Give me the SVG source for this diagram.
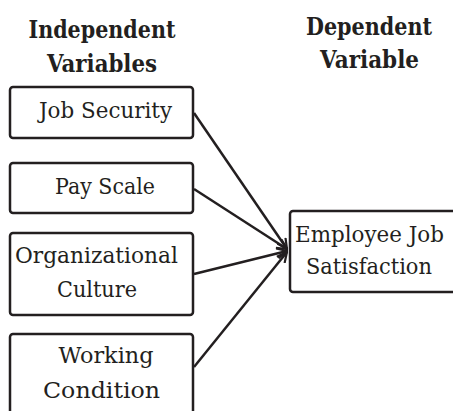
<svg xmlns="http://www.w3.org/2000/svg" width="453" height="411" viewBox="0 0 453 411">
  <style>
    text { font-family: "DejaVu Serif", "Liberation Serif", serif; fill: #231f20; text-anchor: middle; }
    .box { fill: #ffffff; stroke: #231f20; stroke-width: 2.5; }
    .head { font-weight: bold; font-size: 24px; }
    .lbl { font-size: 23px; }
    .lbl-sm { font-size: 21.5px; }
    .link { fill: none; stroke: #231f20; stroke-width: 2.5; marker-end: url(#arrow); }
  </style>
  <defs>
    <marker id="arrow" viewBox="0 0 12 12" refX="11" refY="6" markerWidth="12" markerHeight="12" markerUnits="userSpaceOnUse" orient="auto">
      <path d="M1,1 L11,6 L1,11" fill="none" stroke="#231f20" stroke-width="2.2" stroke-linejoin="miter"/>
    </marker>
  </defs>
  <rect width="453" height="411" fill="#ffffff"/>

  <!-- column headings -->
  <g id="heading-independent">
    <text class="head" x="102" y="38" textLength="147" lengthAdjust="spacingAndGlyphs">Independent</text>
    <text class="head" x="102" y="72" textLength="110" lengthAdjust="spacingAndGlyphs">Variables</text>
  </g>
  <g id="heading-dependent">
    <text class="head" x="369" y="35" textLength="126" lengthAdjust="spacingAndGlyphs">Dependent</text>
    <text class="head" x="369.5" y="68" textLength="99" lengthAdjust="spacingAndGlyphs">Variable</text>
  </g>

  <!-- connectors -->
  <g id="connectors">
    <line class="link" x1="194" y1="113" x2="287" y2="249"/>
    <line class="link" x1="194" y1="189" x2="287" y2="249"/>
    <line class="link" x1="194" y1="274" x2="287" y2="251"/>
    <line class="link" x1="194" y1="367" x2="287" y2="252"/>
  </g>

  <!-- independent variables -->
  <g id="job-security">
    <rect class="box" x="10" y="87" width="183" height="51" rx="3"/>
    <text class="lbl" x="105.5" y="118" textLength="133" lengthAdjust="spacingAndGlyphs">Job Security</text>
  </g>
  <g id="pay-scale">
    <rect class="box" x="10" y="163" width="183" height="50" rx="3"/>
    <text class="lbl" x="105" y="194" textLength="100" lengthAdjust="spacingAndGlyphs">Pay Scale</text>
  </g>
  <g id="organizational-culture">
    <rect class="box" x="10" y="233" width="183" height="82" rx="3"/>
    <text class="lbl" x="96.5" y="263" textLength="163" lengthAdjust="spacingAndGlyphs">Organizational</text>
    <text class="lbl" x="97" y="297" textLength="80" lengthAdjust="spacingAndGlyphs">Culture</text>
  </g>
  <g id="working-condition">
    <rect class="box" x="10" y="334" width="183" height="90" rx="3"/>
    <text class="lbl" x="106" y="363" textLength="95" lengthAdjust="spacingAndGlyphs">Working</text>
    <text class="lbl" x="101.5" y="398" textLength="117" lengthAdjust="spacingAndGlyphs">Condition</text>
  </g>

  <!-- dependent variable; box runs past the right edge -->
  <g id="employee-job-satisfaction">
    <rect class="box" x="290" y="211" width="180" height="81" rx="3"/>
    <text class="lbl-sm" x="369.5" y="242" textLength="149" lengthAdjust="spacingAndGlyphs">Employee Job</text>
    <text class="lbl" x="369" y="274" textLength="126" lengthAdjust="spacingAndGlyphs">Satisfaction</text>
  </g>
</svg>
